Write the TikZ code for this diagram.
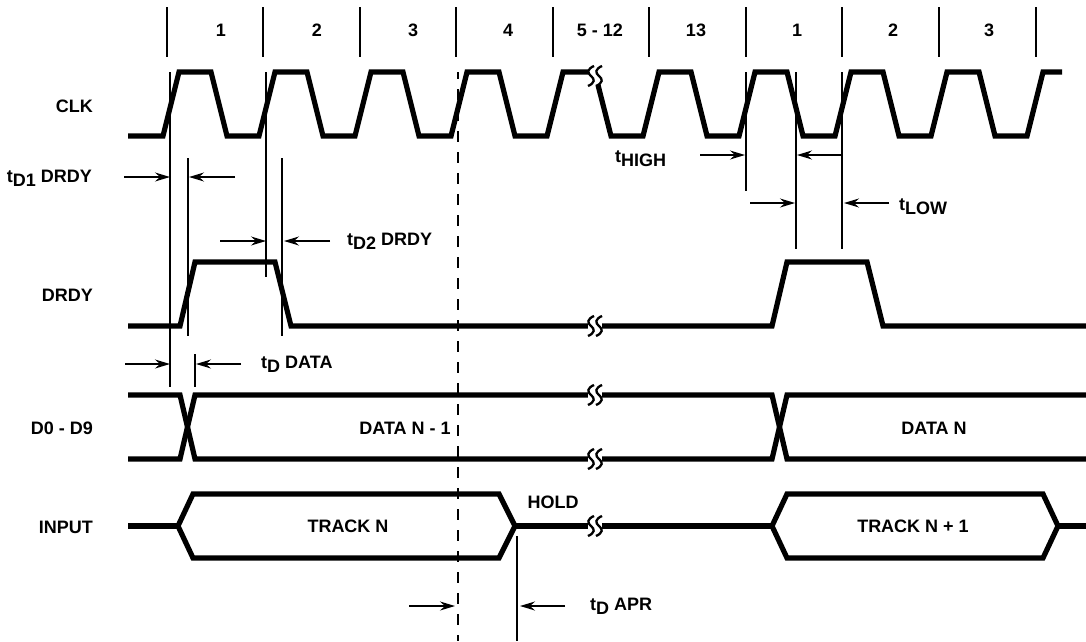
\documentclass[tikz,border=0pt]{standalone}
\usepackage{fontspec}
\setmainfont{Liberation Sans}
\usepackage{tikz}
\usetikzlibrary{arrows.meta}

\newcommand{\sub}[1]{\raisebox{-4pt}{#1}}

\tikzset{
  signal/.style={black, line width=5.2pt},
  guide/.style={black, line width=1.3pt},
  timearrow/.style={black, line width=1.3pt, -{Stealth[length=15pt,width=9pt,inset=5pt]}},
  txt/.style={font=\fontsize{18}{20}\selectfont\bfseries, inner sep=0pt},
  breakmark/.pic={
    \fill[white] (-7,-5) rectangle (7,5);
    \draw[black, line width=2.3pt] (-1,-10) .. controls (-8,-7) and (-8,-3) .. (-4,0) .. controls (0,3) and (0,7) .. (-7,10);
    \draw[black, line width=2.3pt] (7,-10) .. controls (0,-7) and (0,-3) .. (4,0) .. controls (8,3) and (8,7) .. (1,10);
  }
}

\begin{document}
\begin{tikzpicture}[x=1pt,y=-1pt]
\useasboundingbox (0,0) rectangle (1086,641);

% clock numbers
\draw[guide] (167,7) -- (167,57);
\draw[guide] (263,7) -- (263,57);
\draw[guide] (360,7) -- (360,57);
\draw[guide] (456,7) -- (456,57);
\draw[guide] (553,7) -- (553,57);
\draw[guide] (649,7) -- (649,57);
\draw[guide] (746,7) -- (746,57);
\draw[guide] (842,7) -- (842,57);
\draw[guide] (939,7) -- (939,57);
\draw[guide] (1036,7) -- (1036,57);
\node[txt] (cnta) at (221,30) {1};
\node[txt] (cntb) at (317,30) {2};
\node[txt] (cntc) at (413,30) {3};
\node[txt] (cntd) at (508,30) {4};
\node[txt] (cnte) at (600,30) {5 - 12};
\node[txt] (cntf) at (696,30) {13};
\node[txt] (cntg) at (797,30) {1};
\node[txt] (cnth) at (893,30) {2};
\node[txt] (cnti) at (989,30) {3};

% signal names
\node[txt, anchor=east] (clk) at (93,106) {CLK};
\node[txt, anchor=east] (drdy) at (93,295) {DRDY};
\node[txt, anchor=east] (data) at (93,428) {D0 - D9};
\node[txt, anchor=east] (input) at (93,527) {INPUT};

% CLK
\draw[signal] (128,136) -- (163,136) -- (179,72) -- (211,72) -- (227,136) -- (259,136) -- (275,72) -- (307,72) -- (323,136) -- (355,136) -- (371,72) -- (403,72) -- (419,136) -- (451,136) -- (467,72) -- (499,72) -- (515,136) -- (547,136) -- (563,72) -- (589,72);
\draw[signal] (598,85) -- (611,136) -- (643,136) -- (659,72) -- (691,72) -- (707,136) -- (739,136) -- (755,72) -- (787,72) -- (803,136) -- (835,136) -- (851,72) -- (883,72) -- (899,136) -- (931,136) -- (947,72) -- (979,72) -- (995,136) -- (1027,136) -- (1043,72) -- (1062,72);

% DRDY
\draw[signal] (128,326) -- (180,326) -- (195,262) -- (275,262) -- (291,326) -- (772,326) -- (787,262) -- (867,262) -- (883,326) -- (1086,326);

% D0 - D9
\draw[signal] (128,395) -- (180,395) -- (195,459) -- (772,459) -- (787,395) -- (1086,395);
\draw[signal] (128,459) -- (180,459) -- (195,395) -- (772,395) -- (787,459) -- (1086,459);

% INPUT
\draw[signal] (128,526) -- (178,526);
\draw[signal] (178,526) -- (193,494) -- (499,494) -- (515,526) -- (499,558) -- (193,558) -- cycle;
\draw[signal] (515,526) -- (772,526);
\draw[signal] (772,526) -- (787,494) -- (1043,494) -- (1058,526) -- (1043,558) -- (787,558) -- cycle;
\draw[signal] (1058,526) -- (1086,526);

% breaks
\pic at (595,76) {breakmark};
\pic at (595,326) {breakmark};
\pic at (595,395) {breakmark};
\pic at (595,459) {breakmark};
\pic at (595,526) {breakmark};

% guide lines
\draw[guide] (170,72) -- (170,387);
\draw[guide] (188,158) -- (188,336);
\draw[guide] (266,72) -- (266,277);
\draw[guide] (282,158) -- (282,336);
\draw[guide] (195,354) -- (195,387);
\draw[guide] (746,72) -- (746,191);
\draw[guide] (796,72) -- (796,249);
\draw[guide] (842,72) -- (842,249);
\draw[guide] (517,536) -- (517,641);
\draw[guide, line width=1.6pt, dash pattern=on 11pt off 10pt, dash phase=3.7pt] (458,72) -- (458,641);

% delays
\draw[timearrow] (124,177) -- (170,177);
\draw[timearrow] (235,177) -- (189,177);
\node[txt, anchor=east] (tdrdya) at (92,178) {t\sub{D1} DRDY};
\draw[timearrow] (220,241) -- (266,241);
\draw[timearrow] (330,241) -- (284,241);
\node[txt, anchor=west] (tdrdyb) at (347,241) {t\sub{D2} DRDY};
\draw[timearrow] (125,364) -- (170,364);
\draw[timearrow] (241,364) -- (196,364);
\node[txt, anchor=west] (tdata) at (261,364) {t\sub{D} DATA};
\draw[timearrow] (700,155) -- (745,155);
\draw[timearrow] (841,155) -- (797,155);
\node[txt, anchor=west] (thigh) at (615,159) {t\sub{HIGH}};
\draw[timearrow] (750,203) -- (795,203);
\draw[timearrow] (889,203) -- (844,203);
\node[txt, anchor=west] (tlow) at (899,207) {t\sub{LOW}};
\draw[timearrow] (409,606) -- (455,606);
\draw[timearrow] (565,606) -- (520,606);
\node[txt, anchor=west] (tapr) at (590,606) {t\sub{D} APR};

% levels
\node[txt] (datan) at (405,428) {DATA N - 1};
\node[txt] (datanb) at (934,428) {DATA N};
\node[txt] (track) at (348,526) {TRACK N};
\node[txt] (trackb) at (913,526) {TRACK N + 1};
\node[txt] (hold) at (553,502) {HOLD};
\end{tikzpicture}
\end{document}
